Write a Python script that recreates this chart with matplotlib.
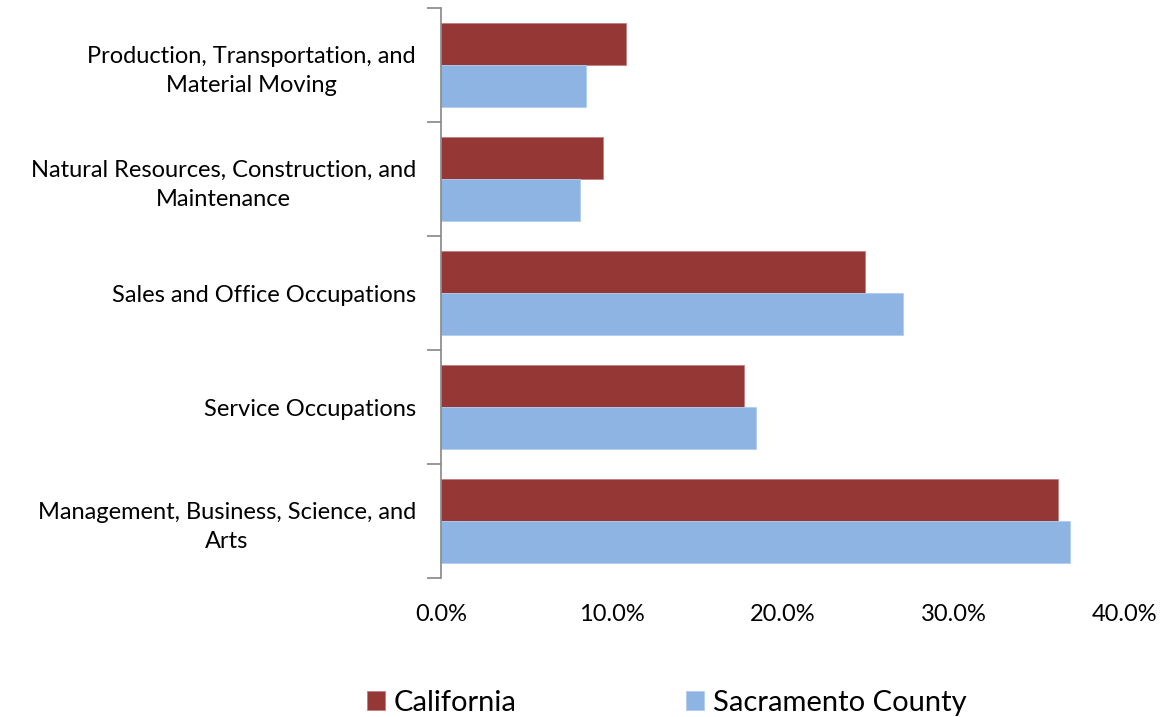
import matplotlib
matplotlib.use("Agg")
import matplotlib.pyplot as plt
import numpy as np
from matplotlib.ticker import FuncFormatter

categories = [
    "Management, Business, Science, and\nArts",
    "Service Occupations",
    "Sales and Office Occupations",
    "Natural Resources, Construction, and\nMaintenance",
    "Production, Transportation, and\nMaterial Moving",
]
california = [36.1, 17.7, 24.8, 9.5, 10.8]
sacramento = [36.8, 18.4, 27.0, 8.1, 8.5]
series_names = ["California", "Sacramento County"]
x_ticks = [0, 10, 20, 30, 40]

plt.rcParams['font.family'] = ['Lato', 'DejaVu Sans']

fig = plt.figure(figsize=(11.68, 7.17), dpi=100)
ax = fig.add_axes([441/1168, 1-578/717, (1125-441)/1168, (578-8)/717])

y = np.arange(len(categories))
h = 0.365
ax.barh(y + h/2, california, height=h, color='#953735', edgecolor='#c08080', linewidth=0.6, label=series_names[0])
ax.barh(y - h/2, sacramento, height=h, color='#8eb4e3', edgecolor='#b0cdf0', linewidth=0.6, label=series_names[1])

ax.set_xlim(0, 40)
ax.set_ylim(-0.5, len(categories) - 0.5)
ax.set_xticks(x_ticks)
ax.xaxis.set_major_formatter(FuncFormatter(lambda v, p: f"{v:.1f}%"))
ax.tick_params(axis='x', length=0, labelsize=17, pad=19)

ax.set_yticks(np.arange(len(categories) + 1) - 0.5)
ax.set_yticklabels([])
ax.tick_params(axis='y', which='major', length=10, width=1.2, color='#868686', direction='out')
ax.set_yticks(y, minor=True)
ax.set_yticklabels(categories, minor=True, fontsize=17, multialignment='center', linespacing=1.5)
ax.tick_params(axis='y', which='minor', length=0, pad=18)

for s in ['top', 'right', 'bottom']:
    ax.spines[s].set_visible(False)
ax.spines['left'].set_color('#868686')
ax.spines['left'].set_linewidth(1.2)

handles, labels = ax.get_legend_handles_labels()
leg = fig.legend(handles, labels, loc='center', bbox_to_anchor=(0.5706, 1-703/717), ncol=2,
                 frameon=False, fontsize=21, handlelength=0.62, handleheight=0.62,
                 columnspacing=5.8, handletextpad=0.3)

fig.savefig("out.png", dpi=100)
